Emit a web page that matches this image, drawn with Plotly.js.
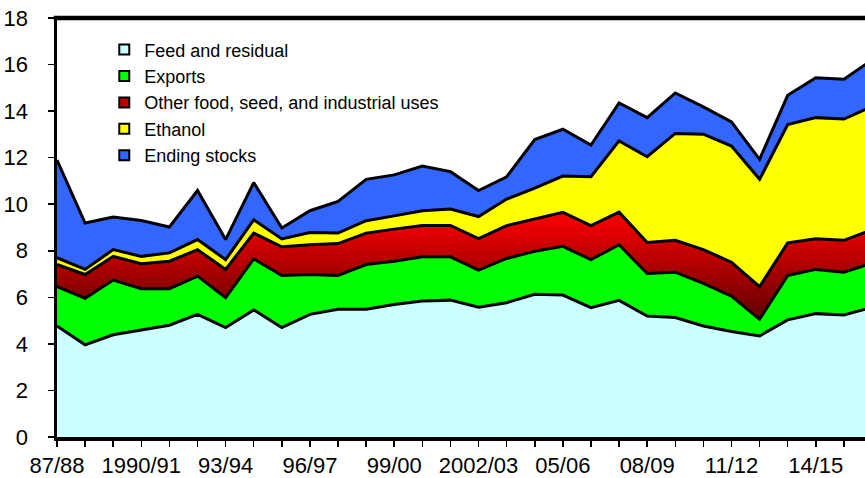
<!DOCTYPE html>
<html>
<head>
<meta charset="utf-8">
<script src="https://cdn.plot.ly/plotly-3.0.1.min.js"></script>
<style>
html, body { margin: 0; padding: 0; overflow: hidden; background: #fff; }
#chart { width: 900px; height: 478px; }
</style>
</head>
<body>
<div id="chart"></div>
<script>
// Marketing years (x categories)
const years = ["87/88","88/89","89/90","1990/91","91/92","92/93","93/94","94/95","95/96","96/97",
  "97/98","98/99","99/00","2000/01","01/02","2002/03","03/04","04/05","05/06","06/07",
  "07/08","08/09","09/10","10/11","11/12","12/13","13/14","14/15","15/16","16/17"];
// Tick labels shown (every third year)
const labelledYears = ["87/88","1990/91","93/94","96/97","99/00","2002/03","05/06","08/09","11/12","14/15"];

// Series values (billion bushels)
const feedResidual = [4.77,3.96,4.39,4.60,4.80,5.27,4.70,5.46,4.70,5.27,
  5.49,5.49,5.69,5.84,5.88,5.58,5.77,6.13,6.10,5.56,
  5.87,5.20,5.13,4.77,4.53,4.34,5.03,5.30,5.24,5.57];
const exportsVals = [1.69,2.00,2.35,1.77,1.57,1.64,1.29,2.19,2.24,1.71,
  1.45,1.92,1.86,1.90,1.86,1.59,1.90,1.85,2.09,2.06,
  2.39,1.82,1.95,1.83,1.52,0.72,1.91,1.90,1.84,1.90];
const otherFSI = [0.95,1.02,1.02,1.07,1.18,1.14,1.21,1.11,1.23,1.28,
  1.37,1.35,1.38,1.35,1.35,1.35,1.41,1.38,1.46,1.46,
  1.40,1.34,1.37,1.45,1.46,1.40,1.40,1.32,1.37,1.43];
const ethanol = [0.29,0.22,0.29,0.32,0.36,0.43,0.42,0.57,0.34,0.52,
  0.45,0.53,0.57,0.63,0.70,0.95,1.14,1.33,1.56,2.10,
  3.06,3.68,4.59,4.96,4.99,4.61,5.08,5.20,5.21,5.30];
const endingStocks = [4.20,1.99,1.40,1.54,1.11,2.11,0.86,1.60,0.47,0.94,
  1.36,1.78,1.76,1.92,1.61,1.12,0.96,2.09,2.01,1.36,
  1.63,1.68,1.74,1.17,1.04,0.86,1.26,1.71,1.71,2.00];

const seriesNames = ["Feed and residual","Exports","Other food, seed, and industrial uses","Ethanol","Ending stocks"];
const seriesValues = [feedResidual, exportsVals, otherFSI, ethanol, endingStocks];
const seriesColors = ["#CCFFFF","#00FF00","#E00000","#FFFF00","#3366FF"];

const FONT = "Liberation Sans, Arial, sans-serif";

const traces = [];
seriesValues.forEach((vals, i) => {
  const t = {
    x: years, y: vals, type: "scatter", mode: "lines",
    stackgroup: "one",
    name: seriesNames[i],
    line: { color: "#000000", width: 3 },
    fillcolor: seriesColors[i],
    showlegend: false,
    hoverinfo: "skip"
  };
  if (i === 2) {
    t.fillgradient = { type: "vertical", colorscale: [[0, "#600000"], [1, "#FF0000"]], start: 5.0, stop: 9.7 };
  }
  traces.push(t);
});
// Legend entries (small outlined squares)
seriesNames.forEach((n, i) => {
  traces.push({
    x: [null], y: [null], type: "scatter", mode: "markers", name: n,
    marker: { symbol: "square", size: 10, color: i === 2 ? "#C00000" : seriesColors[i], line: { color: "#000", width: 2 } },
    showlegend: true, hoverinfo: "skip"
  });
});

const layout = {
  width: 900, height: 478,
  margin: { l: 57, r: 28, t: 18, b: 41 },
  paper_bgcolor: "#ffffff", plot_bgcolor: "#ffffff",
  font: { family: FONT, color: "#000", size: 22 },
  showlegend: true,
  legend: {
    x: 0.058, y: 0.968, xanchor: "left", yanchor: "top",
    bgcolor: "rgba(0,0,0,0)", borderwidth: 0,
    font: { family: FONT, size: 18, color: "#000" },
    traceorder: "normal"
  },
  xaxis: {
    type: "category", range: [0, 29],
    tickmode: "array", tickvals: years,
    ticktext: years.map(y => labelledYears.includes(y) ? y : ""),
    ticks: "outside", ticklen: 6, tickwidth: 1.5, tickcolor: "#000",
    showline: true, linecolor: "#000", linewidth: 3.5,
    showgrid: false, zeroline: false,
    tickfont: { family: FONT, size: 22, color: "#000" },
    tickangle: 0
  },
  yaxis: {
    range: [0, 18], dtick: 2, tick0: 0,
    ticks: "outside", ticklen: 6, tickwidth: 1.5, tickcolor: "#000",
    showline: true, linecolor: "#000", linewidth: 3.5,
    showgrid: false, zeroline: false,
    ticklabelstandoff: 15,
    tickfont: { family: FONT, size: 22, color: "#000" }
  },
  shapes: [{
    type: "line", xref: "paper", yref: "paper", x0: -0.004, x1: 1, y0: 1, y1: 1,
    line: { color: "#000", width: 4.5 }, layer: "above"
  }]
};

Plotly.newPlot("chart", traces, layout, { displayModeBar: false, staticPlot: true });
</script>
</body>
</html>
